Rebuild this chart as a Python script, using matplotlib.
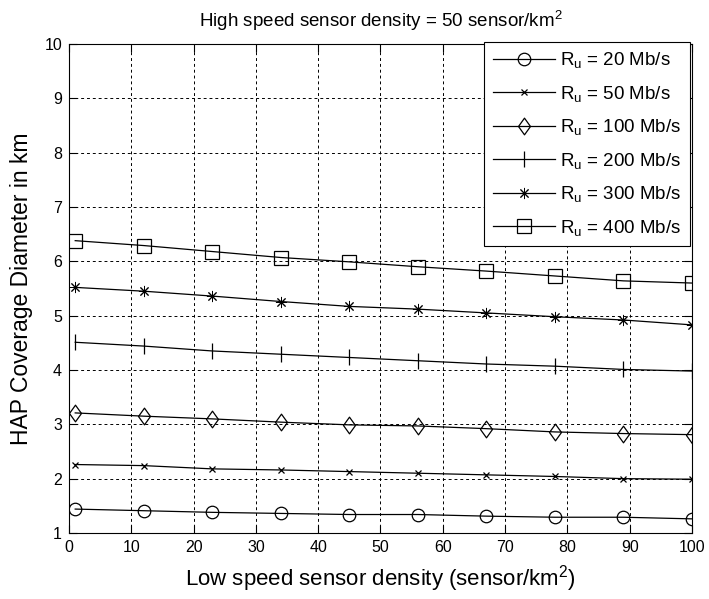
import matplotlib
matplotlib.use("Agg")
import matplotlib.pyplot as plt
from matplotlib.path import Path

plt.rcParams['font.family'] = ['Liberation Sans', 'DejaVu Sans']
plt.rcParams['mathtext.fontset'] = 'custom'
plt.rcParams['mathtext.rm'] = 'Liberation Sans'

x = [1, 12, 23, 34, 45, 56, 67, 78, 89, 100]
r20 = [1.44, 1.41, 1.38, 1.36, 1.34, 1.34, 1.31, 1.29, 1.29, 1.26]
r50 = [2.26, 2.24, 2.18, 2.16, 2.13, 2.10, 2.07, 2.04, 2.00, 1.99]
r100 = [3.21, 3.15, 3.10, 3.04, 2.99, 2.97, 2.92, 2.86, 2.83, 2.81]
r200 = [4.51, 4.44, 4.35, 4.29, 4.23, 4.17, 4.11, 4.07, 4.01, 3.98]
r300 = [5.52, 5.45, 5.36, 5.26, 5.17, 5.12, 5.05, 4.98, 4.92, 4.83]
r400 = [6.38, 6.29, 6.18, 6.07, 5.99, 5.90, 5.82, 5.73, 5.64, 5.60]

rates = ['20', '50', '100', '200', '300', '400']
labels = ['$\\mathregular{R_u}$ = %s Mb/s' % r for r in rates]
series = [r20, r50, r100, r200, r300, r400]

diamond = Path([(0, 1), (0.72, 0), (0, -1), (-0.72, 0), (0, 1)],
               [Path.MOVETO, Path.LINETO, Path.LINETO, Path.LINETO, Path.CLOSEPOLY])
markers = ['o', 'x', diamond, '|', (8, 2, 0), 's']
msizes = [9, 5, 12, 12, 8, 10]
mwidths = [0.9, 0.9, 0.9, 0.9, 0.7, 0.9]

fig = plt.figure(figsize=(7.09, 5.99), dpi=100)
ax = fig.add_axes([0.0973, 0.1102, 0.8787, 0.8164])

for y, lab, m, ms, mw in zip(series, labels, markers, msizes, mwidths):
    ax.plot(x, y, color='black', linewidth=0.9, marker=m, markersize=ms,
            markerfacecolor='none', markeredgecolor='black', markeredgewidth=mw,
            label=lab)

ax.set_xlim(0, 100)
ax.set_ylim(1, 10)
ax.set_xticks(range(0, 101, 10))
ax.set_yticks(range(1, 11))
ax.grid(True, color='black', linestyle=(0, (3, 3)), linewidth=0.7)
ax.tick_params(direction='in', top=True, right=True, labelsize=11.5, length=6, pad=5)
for s in ax.spines.values():
    s.set_linewidth(0.8)

ax.set_xlabel('Low speed sensor density (sensor/km$\\mathregular{^2}$)', fontsize=16, labelpad=6)
ax.set_ylabel('HAP Coverage Diameter in km', fontsize=16.5, labelpad=8)
ax.set_title('High speed sensor density = 50 sensor/km$\\mathregular{^2}$', fontsize=13.5, pad=12)

leg = ax.legend(loc='upper right', bbox_to_anchor=(0.997, 1.004), fontsize=13.5,
                fancybox=False, framealpha=1, edgecolor='black', handlelength=3.3,
                borderaxespad=0.0, labelspacing=0.72, handletextpad=0.3,
                borderpad=0.45)
leg.get_frame().set_linewidth(0.8)

fig.savefig('out.png', dpi=100)
